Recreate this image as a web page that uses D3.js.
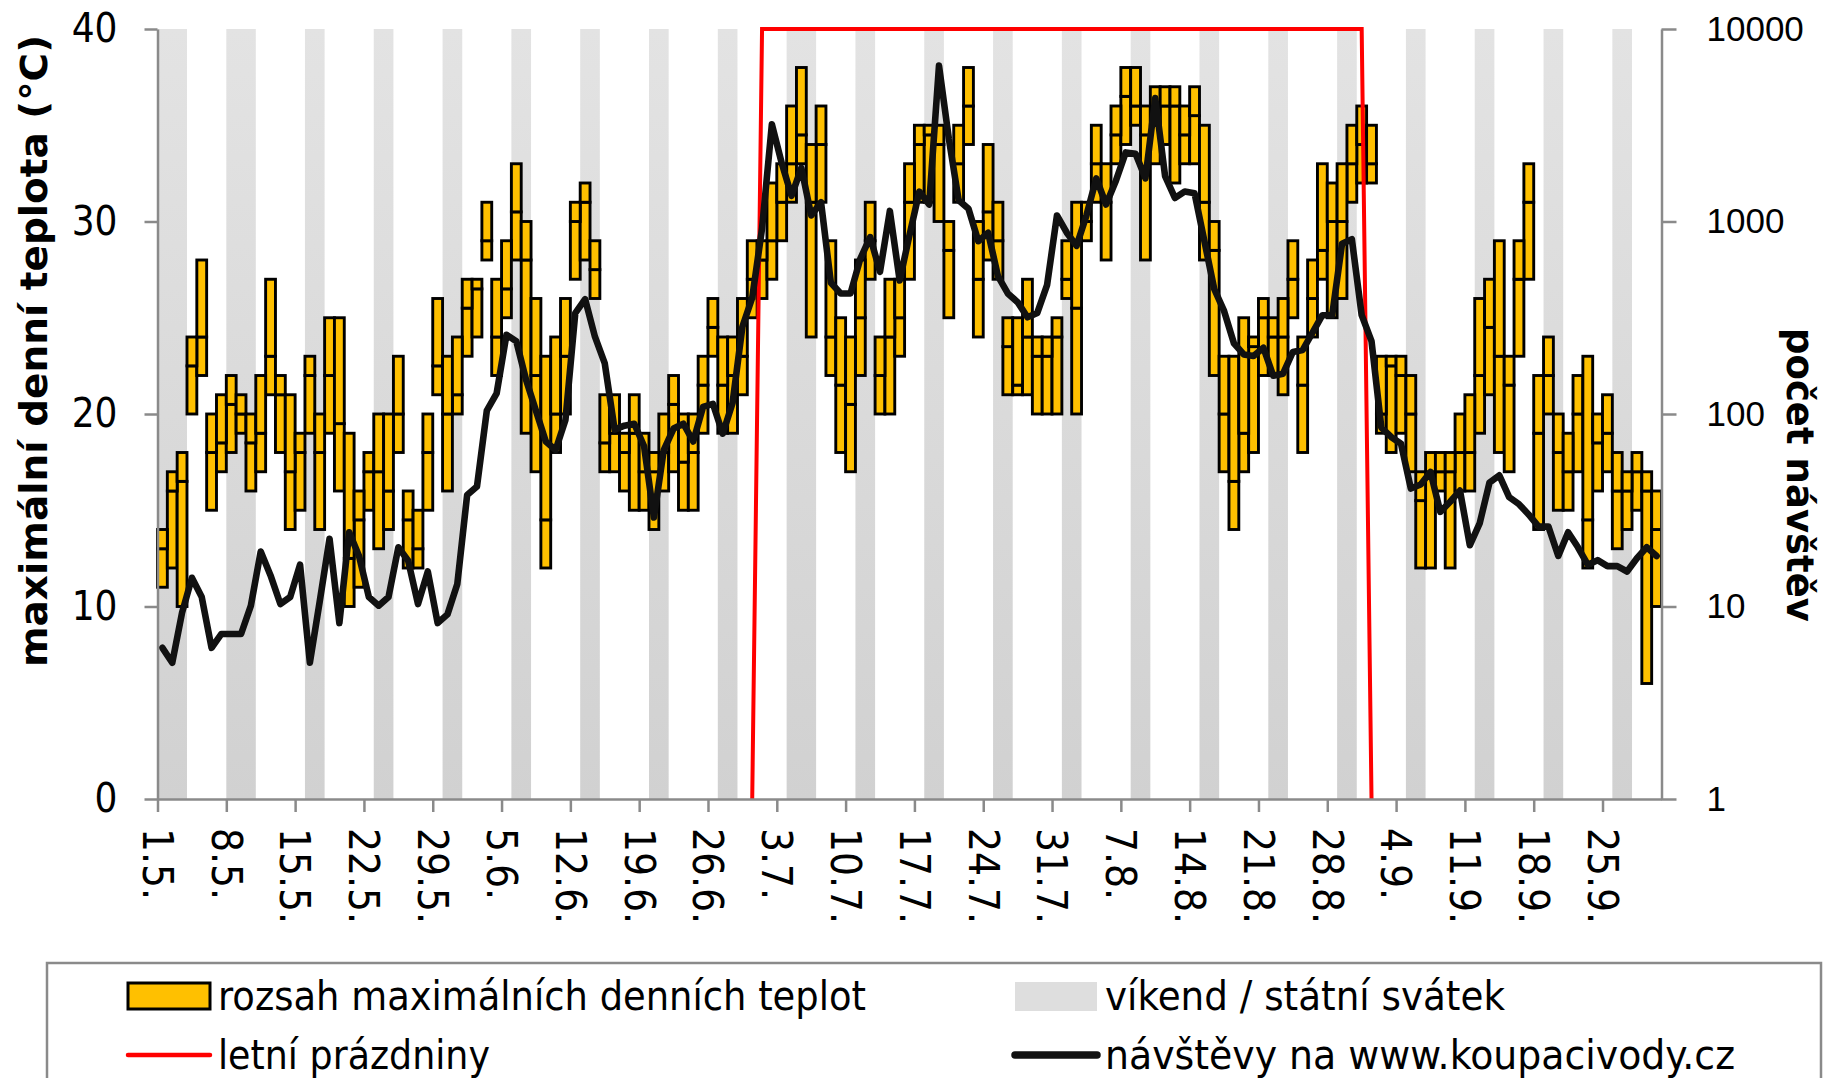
<!DOCTYPE html>
<html>
<head>
<meta charset="utf-8">
<script src="https://cdn.jsdelivr.net/npm/d3@7"></script>
<style>
  body { margin: 0; background: #fff; }
</style>
</head>
<body>
<div id="chart"></div>
<script>
// --- data (season 2015, one value per day from 1.5.) ---
var startDay = new Date(2015, 4, 1);

var tickLabels = ["1.5.", "8.5.", "15.5.", "22.5.", "29.5.", "5.6.", "12.6.", "19.6.", "26.6.",
  "3.7.", "10.7.", "17.7.", "24.7.", "31.7.", "7.8.", "14.8.", "21.8.", "28.8.",
  "4.9.", "11.9.", "18.9.", "25.9."];

var tempLow = [11, 12, 10, 20, 22, 15, 17, 18, 19, 16, 17, 21, 18, 14, 15, 19, 14, 19, 16, 10,
  11, 15, 13, 14, 18, 12, 12, 15, 21, 16, 20, 23, 24, 28, 22, 25, 28, 19, 17, 12,
  18, 20, 27, 28, 26, 17, 17, 16, 15, 15, 14, 16, 17, 15, 15, 19, 23, 19, 19, 21,
  25, 26, 27, 29, 31, 33, 24, 31, 22, 18, 17, 22, 27, 20, 20, 23, 27, 31, 31, 30,
  25, 31, 34, 24, 28, 27, 21, 21, 21, 20, 20, 20, 26, 20, 29, 31, 28, 33, 34, 35,
  28, 33, 34, 32, 33, 33, 28, 22, 17, 14, 17, 18, 22, 22, 21, 25, 18, 24, 27, 25,
  26, 31, 32, 32, 19, 18, 19, 17, 12, 12, 16, 12, 16, 16, 19, 21, 18, 17, 23, 27,
  14, 20, 15, 15, 17, 12, 16, 17, 13, 14, 15, 6, 10];

var tempMid = [13, 16, 16.5, 22.5, 24, 18, 18.5, 20.5, 20, 18.5, 19, 23, 21, 17, 18, 22, 18, 22, 19.5, 12.5,
  14.5, 17, 17, 16, 20, 14.5, 13, 18, 22.5, 20, 21, 25.5, 26.5, 29, 24, 26.5, 30.5, 28, 22, 14.5,
  20, 23, 30, 31, 27.5, 18.5, 19, 18, 19, 17, 17, 18, 20.5, 17.5, 18, 21.5, 24.5, 21.5, 22, 23,
  27, 28, 29, 31, 33, 34.5, 31, 34, 24, 21.5, 20.5, 25, 29, 22, 24, 25, 31, 34, 34.5, 34,
  28.5, 33, 36, 27, 30.5, 29, 23.5, 21.5, 24, 23, 23, 24, 27, 25.5, 30, 33, 31, 34.5, 36.5, 36,
  34.5, 35, 36, 36, 34.5, 35.5, 31, 28.5, 20, 16.5, 19, 23.5, 25, 24, 24, 27, 21.5, 26, 28.5, 30,
  30, 33, 34, 33, 20, 22.5, 22, 20, 15.5, 17, 17, 17, 18, 18, 22, 24.5, 23, 21.5, 27, 31,
  19, 22, 18, 17, 20, 14.5, 18.5, 19, 16, 16, 17, 16, 14];

var tempHigh = [14, 17, 18, 24, 28, 20, 21, 22, 21, 20, 22, 27, 22, 21, 19, 23, 20, 25, 25, 19,
  16, 18, 20, 20, 23, 16, 15, 20, 26, 23, 24, 27, 27, 31, 27, 29, 33, 30, 26, 23,
  24, 26, 31, 32, 29, 21, 21, 19, 21, 19, 18, 20, 22, 20, 20, 23, 26, 24, 24, 26,
  29, 29, 32, 33, 36, 38, 34, 36, 29, 25, 24, 28, 31, 24, 27, 27, 33, 35, 35, 35,
  30, 35, 38, 30, 34, 31, 25, 25, 27, 24, 24, 25, 29, 31, 31, 35, 33, 36, 38, 38,
  36, 37, 37, 37, 36, 37, 35, 30, 23, 23, 25, 24, 26, 25, 26, 29, 24, 28, 33, 32,
  33, 35, 36, 35, 23, 23, 23, 22, 17, 18, 18, 18, 20, 21, 26, 27, 29, 23, 29, 33,
  22, 24, 20, 19, 22, 23, 20, 21, 18, 17, 18, 17, 16];

var visits = [6.1, 5.1, 9.3, 14.1, 11.2, 6.1, 7.2, 7.2, 7.2, 10.1, 19.3, 14.5, 10.3, 11.2, 16.5, 5.1, 10.6, 22.5, 8.2, 24.3,
  18.3, 11.2, 10.1, 11.2, 20.3, 17.3, 10.3, 15.2, 8.2, 9.1, 13.1, 38, 42, 104, 128, 258, 239, 150, 104, 72,
  65, 93, 334, 395, 252, 183, 83, 87, 89, 68, 29, 65, 84, 89, 72, 109, 113, 79, 114, 284,
  402, 920, 3200, 2010, 1360, 1900, 1075, 1260, 481, 423, 423, 641, 830, 548, 1135, 494, 850, 1430, 1225, 6450,
  2700, 1290, 1165, 790, 875, 520, 423, 381, 318, 335, 469, 1075, 875, 748, 1075, 1675, 1225, 1630, 2285, 2250,
  1675, 4375, 1720, 1325, 1430, 1400, 790, 446, 343, 233, 204, 200, 221, 158, 162, 210, 215, 265, 326, 326,
  767, 809, 326, 239, 85, 76, 70, 41, 43, 50, 31, 35, 40, 20.8, 27, 44, 48, 37, 34, 30,
  26, 26, 18.3, 24.3, 20.3, 16.5, 17.4, 16.2, 16.2, 15.2, 17.8, 20.3, 18.3];

// days off besides weekends (1.5., 8.5., 6.7.)
var holidayDays = [0, 7, 66];

// summer holidays line: 30.6. -> 1.7. ... 31.8. -> 1.9.
var summerDays = [60, 61, 122, 123];
var summerValues = [0, 40, 40, 0];

// --- chart ---
var width = 1829, height = 1078;
var margin = {top: 29, right: 167.5, bottom: 279, left: 157.5};
var w = width - margin.left - margin.right;
var h = height - margin.top - margin.bottom;
var axisColor = "#8a8a8a";

var svg = d3.select("#chart")
  .append("svg")
    .attr("width", width)
    .attr("height", height)
    .style("font-family", "'DejaVu Sans', sans-serif");

var defs = svg.append("defs");
var grad = defs.append("linearGradient")
    .attr("id", "greyFade")
    .attr("x1", 0).attr("y1", 0).attr("x2", 0).attr("y2", 1);
grad.append("stop").attr("offset", "0%").attr("stop-color", "#e3e3e3");
grad.append("stop").attr("offset", "100%").attr("stop-color", "#d1d1d1");

var g = svg.append("g")
    .attr("transform", "translate(" + margin.left + "," + margin.top + ")");

var nDays = tempLow.length;
var days = d3.range(nDays);

var x = d3.scaleLinear().domain([0, nDays]).range([0, w]);
var y = d3.scaleLinear().domain([0, 40]).range([h, 0]);
var y2 = d3.scaleLog().domain([1, 10000]).range([h, 0]);

// weekends + holidays as grey columns (consecutive days merged)
var offDays = days.filter(function(i) {
  var wd = d3.timeDay.offset(startDay, i).getDay();
  return wd == 0 || wd == 6 || holidayDays.indexOf(i) >= 0;
});
var runs = [];
offDays.forEach(function(d) {
  var last = runs[runs.length - 1];
  if (last && last[1] == d) last[1] = d + 1;
  else runs.push([d, d + 1]);
});

g.selectAll(".off")
  .data(runs)
  .enter().append("rect")
    .attr("class", "off")
    .attr("x", function(d) { return x(d[0]); })
    .attr("width", function(d) { return x(d[1]) - x(d[0]); })
    .attr("y", 0)
    .attr("height", h)
    .attr("fill", "url(#greyFade)");

// temperature range, two stacked pieces per day
var dayW = x(1) - x(0);
g.selectAll(".lowPart")
  .data(days)
  .enter().append("rect")
    .attr("x", function(d) { return x(d); })
    .attr("width", dayW)
    .attr("y", function(d) { return y(tempMid[d]); })
    .attr("height", function(d) { return y(tempLow[d]) - y(tempMid[d]); })
    .attr("fill", "#ffc000")
    .attr("stroke", "#000")
    .attr("stroke-width", 2.9);

g.selectAll(".highPart")
  .data(days)
  .enter().append("rect")
    .attr("x", function(d) { return x(d); })
    .attr("width", dayW)
    .attr("y", function(d) { return y(tempHigh[d]); })
    .attr("height", function(d) { return y(tempMid[d]) - y(tempHigh[d]); })
    .attr("fill", "#ffc000")
    .attr("stroke", "#000")
    .attr("stroke-width", 2.9);

// summer holidays
g.append("path")
  .datum(summerDays)
  .attr("fill", "none")
  .attr("stroke", "#ff0000")
  .attr("stroke-width", 4)
  .attr("d", d3.line()
    .x(function(d) { return x(d + 0.5); })
    .y(function(d, i) { return y(summerValues[i]); })
  );

// visits (right log axis)
g.append("path")
  .datum(days)
  .attr("fill", "none")
  .attr("stroke", "#111")
  .attr("stroke-width", 6.6)
  .attr("stroke-linejoin", "round")
  .attr("stroke-linecap", "round")
  .attr("d", d3.line()
    .x(function(d) { return x(d + 0.5); })
    .y(function(d) { return y2(visits[d]); })
  );

// axes
var leftAxis = g.append("g")
  .call(d3.axisLeft(y).tickValues([0, 10, 20, 30, 40]).tickSize(13).tickSizeOuter(0).tickPadding(27));
leftAxis.selectAll("text")
  .style("font-family", "'DejaVu Sans Condensed', 'DejaVu Sans', sans-serif")
  .style("font-stretch", "condensed")
  .attr("font-size", 40);

var rightAxis = g.append("g")
  .attr("transform", "translate(" + w + ",0)")
  .call(d3.axisRight(y2).tickValues([1, 10, 100, 1000, 10000]).tickFormat(d3.format("d"))
    .tickSize(15).tickSizeOuter(0).tickPadding(30));
rightAxis.selectAll("text").attr("font-size", 35);

var bottomAxis = g.append("g")
  .attr("transform", "translate(0," + h + ")")
  .call(d3.axisBottom(x).tickValues(d3.range(0, nDays, 7))
    .tickFormat(function(d, i) { return tickLabels[i]; })
    .tickSize(13).tickSizeOuter(0));
bottomAxis.selectAll("text")
  .attr("transform", "rotate(90)")
  .attr("x", 29)
  .attr("y", 0)
  .attr("dy", "0.36em")
  .style("text-anchor", "start")
  .style("font-family", "'DejaVu Sans Condensed', 'DejaVu Sans', sans-serif")
  .style("font-stretch", "condensed")
  .attr("font-size", 42);

[leftAxis, rightAxis, bottomAxis].forEach(function(a) {
  a.selectAll("path, line").attr("stroke", axisColor).attr("stroke-width", 2.5);
  a.selectAll("text").attr("fill", "#000");
});

// axis titles
svg.append("text")
  .attr("transform", "translate(47," + (margin.top + 322) + ") rotate(-90)")
  .attr("text-anchor", "middle")
  .attr("font-weight", "bold")
  .attr("font-size", 37)
  .attr("textLength", 632)
  .attr("lengthAdjust", "spacingAndGlyphs")
  .text("maximální denní teplota (°C)");

svg.append("text")
  .attr("transform", "translate(1787,475) rotate(90)")
  .attr("text-anchor", "middle")
  .attr("font-weight", "bold")
  .attr("font-size", 37)
  .attr("textLength", 294)
  .attr("lengthAdjust", "spacingAndGlyphs")
  .text("počet návštěv");

// legend (the box runs past the bottom edge, as in the original)
var legend = svg.append("g");
legend.append("rect")
  .attr("x", 47).attr("y", 963)
  .attr("width", 1774).attr("height", 160)
  .attr("fill", "#fff")
  .attr("stroke", axisColor)
  .attr("stroke-width", 2.5);

var legendItems = [
  {label: "rozsah maximálních denních teplot", x: 128, y: 996, kind: "bar", len: 648},
  {label: "víkend / státní svátek", x: 1015, y: 996, kind: "grey", len: 400},
  {label: "letní prázdniny", x: 128, y: 1055, kind: "red", len: 272},
  {label: "návštěvy na www.koupacivody.cz", x: 1015, y: 1055, kind: "black", len: 630}
];

legendItems.forEach(function(it) {
  if (it.kind == "bar") {
    legend.append("rect").attr("x", it.x).attr("y", it.y - 13).attr("width", 82).attr("height", 26)
      .attr("fill", "#ffc000").attr("stroke", "#000").attr("stroke-width", 3);
  } else if (it.kind == "grey") {
    legend.append("rect").attr("x", it.x).attr("y", it.y - 14).attr("width", 82).attr("height", 29)
      .attr("fill", "#dedede");
  } else {
    legend.append("line").attr("x1", it.x).attr("x2", it.x + 82).attr("y1", it.y).attr("y2", it.y)
      .attr("stroke", it.kind == "red" ? "#ff0000" : "#111")
      .attr("stroke-width", it.kind == "red" ? 4.5 : 7.5)
      .attr("stroke-linecap", "round");
  }
  legend.append("text")
    .attr("x", it.x + 90)
    .attr("y", it.y + 14)
    .attr("font-size", 41)
    .attr("textLength", it.len)
    .attr("lengthAdjust", "spacingAndGlyphs")
    .text(it.label);
});
</script>
</body>
</html>
